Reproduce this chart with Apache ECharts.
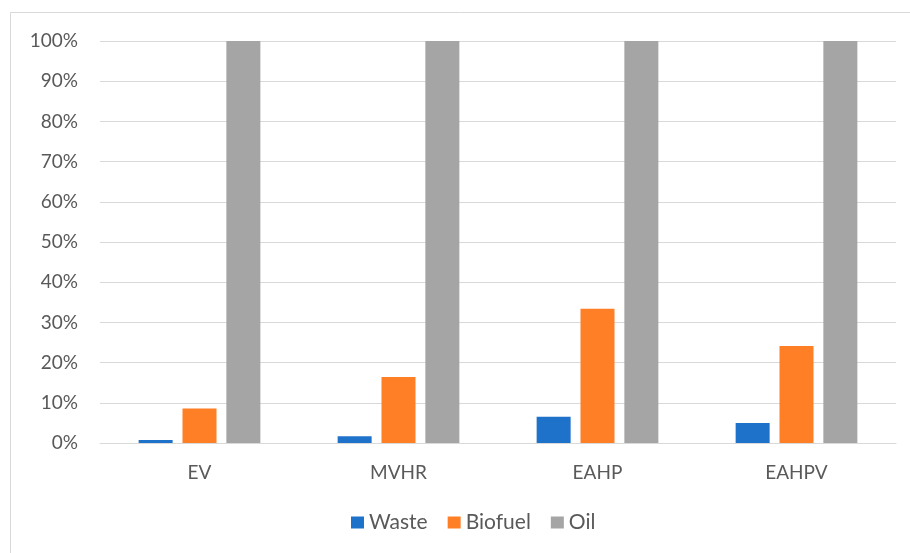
<!DOCTYPE html>
<html>
<head>
<meta charset="utf-8">
<script src="https://cdn.jsdelivr.net/npm/echarts@6/dist/echarts.min.js"></script>
<style>
html,body{margin:0;padding:0;background:#fff;}
#chart{width:910px;height:553px;}
</style>
</head>
<body>
<div id="chart"></div>
<script>
var categories = ['EV', 'MVHR', 'EAHP', 'EAHPV'];
var seriesNames = ['Waste', 'Biofuel', 'Oil'];
var waste = [0.75, 1.7, 6.5, 5.0];
var biofuel = [8.6, 16.4, 33.4, 24.1];
var oil = [100, 100, 100, 100];
var colors = ['#1f72c9', '#ff7f27', '#a5a5a5'];

var FONT = 'Lato';
var TXT = '#595959';

var chart = echarts.init(document.getElementById('chart'), null, {renderer: 'canvas'});
var values = [waste, biofuel, oil];
chart.setOption({
  animation: false,
  backgroundColor: '#ffffff',
  graphic: [{
    type: 'rect',
    shape: {x: 10.5, y: 12.5, width: 1000, height: 1000},
    style: {fill: 'none', stroke: '#d9d9d9', lineWidth: 1},
    silent: true
  }],
  grid: {left: 100, right: 14, top: 41, bottom: 110, containLabel: false},
  legend: {
    bottom: 15,
    left: 346,
    itemWidth: 13,
    itemHeight: 12,
    itemGap: 20,
    icon: 'rect',
    textStyle: {fontFamily: FONT, fontSize: 21, color: TXT},
    data: seriesNames
  },
  xAxis: {
    type: 'category',
    data: categories,
    axisLine: {show: true, lineStyle: {color: '#d9d9d9', width: 1}},
    axisTick: {show: false},
    axisLabel: {fontFamily: FONT, fontSize: 19, color: TXT, margin: 20}
  },
  yAxis: {
    type: 'value',
    min: 0, max: 100, interval: 10,
    axisLine: {show: false},
    axisTick: {show: false},
    splitLine: {lineStyle: {color: '#d9d9d9', width: 1}},
    axisLabel: {fontFamily: FONT, fontSize: 19, color: TXT, margin: 22, formatter: '{value}%'}
  },
  series: seriesNames.map(function (n, i) {
    return {
      name: n,
      type: 'bar',
      data: values[i],
      barWidth: 34,
      barGap: '29%',
      itemStyle: {color: colors[i]}
    };
  })
});
</script>
</body>
</html>
